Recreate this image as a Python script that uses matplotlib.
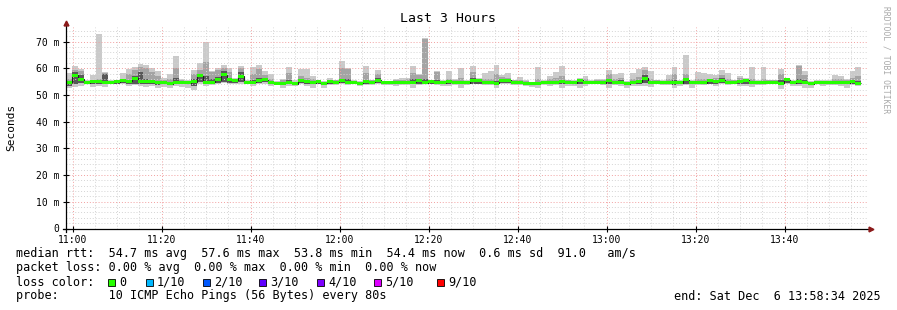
import matplotlib
matplotlib.use("Agg")
import matplotlib.dates as mdates
import matplotlib.pyplot as plt
import numpy as np
import pandas as pd
from matplotlib.patches import Rectangle
from matplotlib.ticker import FuncFormatter, MultipleLocator

# smokeping data: 80 s steps, values in ms
start = "2025-12-06 10:58:34"
end = "2025-12-06 13:58:34"
step = "80s"

median = [
    54.7, 57.4, 55.9, 54.6, 54.9, 54.9, 54.8, 54.8, 54.9, 55.3,
    55.2, 56.2, 55.0, 55.0, 54.9, 54.6, 54.5, 54.2, 54.8, 54.8,
    54.5, 55.0, 57.3, 54.8, 54.8, 55.8, 57.6, 55.7, 55.5, 57.0,
    54.7, 54.8, 55.5, 55.8, 54.6, 54.4, 54.4, 54.8, 54.3, 55.4,
    55.0, 54.5, 54.9, 54.4, 55.0, 54.8, 55.3, 54.8, 54.8, 54.4,
    55.0, 54.8, 55.5, 54.6, 54.5, 54.6, 54.7, 54.7, 54.7, 55.3,
    54.6, 54.9, 54.8, 54.6, 54.9, 54.7, 54.6, 54.6, 55.3, 55.3,
    54.6, 54.6, 54.4, 55.5, 55.6, 54.6, 54.6, 54.4, 54.2, 54.4,
    54.7, 54.6, 54.7, 54.9, 54.8, 54.6, 55.6, 54.7, 54.7, 54.8,
    54.6, 55.3, 54.6, 54.8, 54.3, 54.7, 54.9, 56.2, 54.6, 54.8,
    54.6, 54.6, 54.6, 54.6, 55.7, 54.6, 54.8, 54.6, 55.3, 55.1,
    55.6, 54.8, 54.8, 55.2, 55.6, 54.6, 54.6, 54.6, 54.8, 54.8,
    54.4, 55.8, 54.6, 55.2, 54.8, 54.3, 54.6, 54.6, 54.6, 54.6,
    54.6, 54.6, 54.9, 54.4,
]
rtt_max = [
    58.3, 61.0, 59.8, 55.5, 57.5, 72.7, 58.5, 55.8, 55.5, 58.3,
    59.6, 60.6, 61.5, 61.3, 60.2, 59.0, 56.3, 58.0, 64.6, 56.0,
    55.5, 59.3, 62.1, 69.9, 58.9, 60.1, 61.2, 60.2, 56.5, 61.0,
    55.5, 60.3, 61.2, 59.0, 57.7, 55.3, 56.0, 60.3, 55.5, 59.7,
    59.7, 57.1, 55.8, 55.2, 56.2, 55.8, 62.6, 60.1, 55.5, 55.3,
    60.8, 55.8, 59.2, 55.3, 55.3, 56.0, 56.5, 56.5, 60.8, 57.8,
    71.3, 55.7, 59.0, 55.5, 59.1, 56.0, 60.0, 55.6, 60.8, 56.3,
    58.3, 59.0, 61.2, 57.5, 58.3, 55.8, 56.8, 55.8, 55.0, 60.6,
    55.5, 57.1, 58.6, 60.8, 55.8, 55.6, 56.3, 57.1, 55.8, 56.0,
    56.0, 59.3, 57.8, 58.4, 55.3, 58.3, 59.6, 60.3, 59.0, 55.8,
    55.6, 57.5, 60.6, 55.5, 65.0, 55.6, 58.6, 58.4, 58.0, 57.5,
    59.3, 58.4, 55.8, 57.0, 56.3, 60.3, 55.6, 60.3, 55.8, 55.8,
    59.6, 56.5, 55.5, 61.2, 59.0, 55.3, 55.5, 55.5, 55.5, 57.5,
    57.1, 56.0, 59.1, 60.3,
]
rtt_p80 = [
    56.0, 59.5, 59.0, 55.0, 55.5, 56.0, 58.2, 55.3, 55.3, 56.0,
    57.8, 59.3, 60.5, 60.0, 58.6, 57.0, 55.5, 56.0, 60.0, 55.5,
    55.2, 58.0, 59.3, 62.4, 58.5, 59.3, 60.0, 58.5, 56.0, 60.0,
    55.2, 57.7, 59.6, 57.5, 56.0, 55.0, 55.5, 58.4, 55.0, 57.0,
    56.5, 56.0, 55.5, 55.0, 55.8, 55.5, 60.0, 59.8, 55.2, 55.0,
    58.4, 55.5, 57.8, 55.0, 55.0, 55.5, 55.8, 56.0, 58.4, 57.5,
    70.8, 55.3, 58.8, 55.2, 56.0, 55.5, 56.5, 55.3, 58.7, 55.8,
    56.0, 56.0, 57.8, 56.8, 56.5, 55.5, 55.8, 55.3, 54.8, 56.0,
    55.2, 56.0, 56.5, 57.0, 55.5, 55.3, 56.0, 56.0, 55.3, 55.7,
    55.6, 57.7, 56.0, 56.5, 55.0, 56.0, 56.8, 59.3, 56.0, 55.5,
    55.3, 56.0, 58.0, 55.3, 58.0, 55.3, 56.0, 56.0, 56.0, 56.3,
    57.5, 56.0, 55.5, 56.3, 56.0, 56.0, 55.3, 56.0, 55.5, 55.5,
    57.7, 56.2, 55.2, 60.8, 57.5, 55.0, 55.2, 55.2, 55.2, 56.0,
    56.0, 55.5, 56.5, 57.0,
]
rtt_p60 = [
    55.2, 58.5, 57.5, 54.8, 55.0, 55.2, 57.8, 55.0, 55.0, 55.5,
    55.8, 57.0, 58.5, 56.0, 55.5, 55.0, 54.8, 54.8, 56.5, 55.0,
    55.0, 56.0, 58.0, 57.0, 56.0, 56.8, 59.0, 56.5, 55.5, 58.5,
    55.0, 55.5, 56.5, 56.5, 55.0, 54.8, 55.0, 55.5, 54.8, 56.0,
    55.5, 55.0, 55.0, 54.8, 55.3, 55.0, 56.0, 56.0, 55.0, 54.8,
    55.5, 55.0, 56.2, 54.8, 54.8, 55.0, 55.2, 55.3, 56.0, 56.0,
    56.0, 55.0, 55.5, 55.0, 55.3, 55.0, 55.3, 55.0, 56.3, 55.3,
    55.2, 55.2, 55.2, 55.8, 56.0, 55.0, 55.0, 55.0, 54.6, 55.0,
    55.0, 55.0, 55.3, 55.5, 55.0, 55.0, 55.6, 55.0, 55.0, 55.2,
    55.0, 56.0, 55.0, 55.5, 54.8, 55.0, 55.5, 57.5, 55.0, 55.0,
    55.0, 55.0, 55.5, 55.0, 56.0, 55.0, 55.2, 55.0, 55.5, 55.5,
    56.2, 55.2, 55.2, 55.6, 55.6, 55.0, 55.0, 55.0, 55.0, 55.0,
    55.5, 55.8, 55.0, 56.0, 55.5, 54.8, 55.0, 55.0, 55.0, 55.0,
    55.0, 55.0, 55.5, 55.2,
]
rtt_p20 = [
    53.5, 54.0, 54.5, 54.0, 54.0, 54.0, 54.0, 54.3, 54.3, 54.5,
    54.0, 54.3, 54.3, 54.0, 54.0, 53.8, 54.0, 53.7, 54.3, 54.0,
    54.0, 53.5, 55.0, 54.3, 54.2, 54.5, 55.0, 54.5, 54.5, 55.0,
    54.2, 54.2, 54.5, 54.8, 54.0, 54.0, 54.0, 54.2, 54.0, 54.5,
    54.0, 54.0, 54.2, 54.0, 54.3, 54.2, 54.5, 54.2, 54.2, 53.8,
    54.3, 54.2, 54.5, 54.2, 54.0, 54.0, 54.2, 54.2, 54.0, 54.3,
    54.3, 54.2, 54.2, 54.0, 54.0, 54.2, 54.0, 54.2, 54.3, 54.3,
    54.2, 54.0, 53.8, 54.5, 54.5, 54.2, 54.2, 54.0, 53.8, 54.0,
    54.2, 54.0, 54.2, 54.0, 54.0, 54.0, 54.0, 54.2, 54.2, 54.2,
    54.2, 54.0, 54.2, 54.0, 53.8, 54.0, 54.2, 54.5, 54.0, 54.2,
    54.2, 54.0, 53.8, 54.0, 54.3, 54.0, 54.2, 54.2, 54.2, 54.0,
    54.5, 54.2, 54.2, 54.0, 54.3, 54.0, 54.2, 54.2, 54.2, 54.2,
    53.8, 54.5, 54.0, 54.2, 54.0, 53.8, 54.2, 54.0, 54.2, 54.2,
    54.0, 54.0, 54.2, 54.0,
]
rtt_min = [
    52.5, 53.0, 53.5, 54.0, 53.0, 53.5, 53.0, 54.0, 54.0, 54.0,
    53.5, 53.7, 53.5, 53.0, 53.2, 52.8, 53.0, 52.7, 53.5, 53.0,
    52.8, 52.0, 54.0, 53.5, 53.6, 54.0, 54.5, 54.0, 54.0, 54.0,
    54.0, 53.5, 54.0, 54.0, 53.2, 53.8, 52.7, 53.3, 53.5, 54.0,
    53.5, 52.7, 54.0, 52.7, 53.8, 53.8, 54.0, 53.8, 54.0, 53.2,
    53.8, 53.8, 54.0, 53.8, 53.8, 53.2, 53.8, 53.8, 52.5, 53.8,
    54.0, 54.0, 53.8, 53.3, 53.5, 53.8, 52.5, 53.8, 54.0, 54.0,
    53.8, 53.8, 52.5, 54.0, 54.0, 53.8, 53.8, 53.5, 53.0, 52.8,
    53.8, 53.3, 53.8, 52.8, 53.5, 53.5, 52.5, 53.5, 54.0, 54.0,
    53.8, 52.8, 53.8, 53.2, 52.8, 53.5, 53.5, 53.5, 53.0, 54.0,
    53.8, 53.8, 52.5, 53.5, 53.8, 52.8, 53.8, 53.8, 54.0, 53.3,
    54.0, 53.8, 54.0, 53.2, 53.5, 53.0, 53.8, 53.8, 54.0, 54.0,
    52.3, 54.0, 53.2, 53.5, 52.8, 52.5, 54.0, 53.3, 53.8, 53.8,
    53.2, 52.8, 53.8, 53.3,
]

loss_labels = ["0", "1/10", "2/10", "3/10", "4/10", "5/10", "9/10"]
loss_colors = ["#26ff00", "#00b8ff", "#0059ff", "#5e00ff", "#7e00ff", "#dd00ff", "#ff0000"]

W, H = 897, 310
FONT = "DejaVu Sans Mono"
plt.rcParams["font.family"] = FONT


def fx(x):
    return x / W


def fy(y):
    return 1 - y / H


fig = plt.figure(figsize=(W / 100, H / 100), dpi=100)
fig.patch.set_facecolor("white")
ax = fig.add_axes([fx(66.3), fy(228.5), 801 / W, 75.6 * 2.67 / H])

edges = mdates.date2num(pd.date_range(start, periods=len(median) + 1, freq=step).to_pydatetime())
med = np.array(median)

# smoke layers, outer (light) to inner (dark)
ax.stairs(rtt_max, edges, baseline=rtt_min, fill=True, color="#cacaca", zorder=1)
ax.stairs(rtt_p80, edges, baseline=rtt_p20, fill=True, color="#a4a4a4", zorder=1.1)
ax.stairs(rtt_p60, edges, baseline=rtt_p20, fill=True, color="#585858", zorder=1.2)
# median: thin dark line plus green band
ax.stairs(med, edges, baseline=None, color="#202020", linewidth=0.8, zorder=3)
ax.stairs(med + 0.56, edges, baseline=med - 0.56, fill=True, color=loss_colors[0], zorder=3.1)

ax.set_xlim(mdates.date2num(pd.Timestamp(start)), mdates.date2num(pd.Timestamp(end)))
ax.set_ylim(0, 75.6)
ax.xaxis.set_major_locator(mdates.MinuteLocator(byminute=[0, 20, 40]))
ax.xaxis.set_minor_locator(mdates.MinuteLocator(byminute=range(0, 60, 5)))
ax.xaxis.set_major_formatter(mdates.DateFormatter("%H:%M"))
ax.yaxis.set_major_locator(MultipleLocator(10))
ax.yaxis.set_minor_locator(MultipleLocator(2))
ax.yaxis.set_major_formatter(FuncFormatter(lambda v, p: "0" if v == 0 else f"{v:.0f} m"))

ax.set_axisbelow(False)
ax.grid(which="minor", color="#d4d4d4", linestyle=(0, (1, 2)), linewidth=0.7, zorder=2)
ax.grid(which="major", color="#f2a0a0", linestyle=(0, (1, 2)), linewidth=0.7, zorder=2)
ax.tick_params(which="major", direction="inout", length=4, width=0.8, labelsize=7, pad=3)
ax.tick_params(which="minor", length=0)
ax.set_facecolor("white")
for s in ax.spines.values():
    s.set_visible(False)

# axis lines with arrows
ax.plot([-0.004, 1.004], [0, 0], color="black", lw=0.9, transform=ax.transAxes, clip_on=False, zorder=5)
ax.plot([0, 0], [-0.018, 1.012], color="black", lw=0.9, transform=ax.transAxes, clip_on=False, zorder=5)
ax.plot([1.005], [0], marker=">", color="#8b1a1a", ms=3.5, transform=ax.transAxes, clip_on=False, zorder=6)
ax.plot([0], [1.02], marker="^", color="#8b1a1a", ms=3.5, transform=ax.transAxes, clip_on=False, zorder=6)

fig.text(fx(448), fy(19), "Last 3 Hours", ha="center", va="center", fontsize=9.5)
fig.text(fx(11), fy(127), "Seconds", ha="center", va="center", rotation=90, fontsize=8)
fig.text(fx(886), fy(60), "RRDTOOL / TOBI OETIKER", ha="center", va="center",
         rotation=270, fontsize=5.8, color="#a8a8a8")

leg = 8.5
fig.text(fx(16), fy(254), "median rtt:  54.7 ms avg  57.6 ms max  53.8 ms min  54.4 ms now  0.6 ms sd  91.0   am/s",
         va="center", fontsize=leg)
fig.text(fx(16), fy(268), "packet loss: 0.00 % avg  0.00 % max  0.00 % min  0.00 % now",
         va="center", fontsize=leg)
fig.text(fx(16), fy(282), "loss color:", va="center", fontsize=leg)
box_x = [108, 146, 203, 259, 317, 374, 437]
for bx, lab, col in zip(box_x, loss_labels, loss_colors):
    fig.patches.append(Rectangle((fx(bx), fy(285.5)), 7 / W, 7 / H, transform=fig.transFigure,
                                 facecolor=col, edgecolor="black", linewidth=0.6))
    fig.text(fx(bx + 11), fy(282), lab, va="center", fontsize=leg)
fig.text(fx(16), fy(296), "probe:       10 ICMP Echo Pings (56 Bytes) every 80s", va="center", fontsize=leg)
fig.text(fx(881), fy(296), "end: Sat Dec  6 13:58:34 2025", ha="right", va="center", fontsize=leg)

fig.savefig("out.png", dpi=100)
